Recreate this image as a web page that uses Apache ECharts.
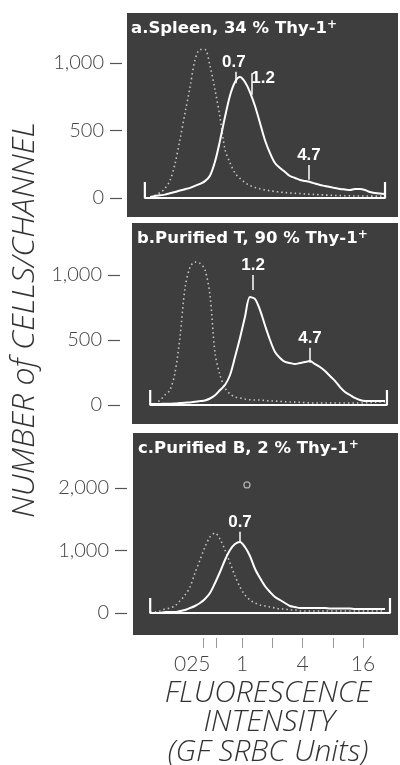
<!DOCTYPE html>
<html>
<head>
<meta charset="utf-8">
<script src="https://cdn.jsdelivr.net/npm/echarts@6/dist/echarts.min.js"></script>
<style>
html, body { margin: 0; padding: 0; background: #fff; }
#chart { width: 400px; height: 765px; }
</style>
</head>
<body>
<div id="chart"></div>
<script>
// fluorescence intensity (GF SRBC units) of each histogram point
var xGrid = [0.122, 0.136, 0.153, 0.171, 0.192, 0.215, 0.241, 0.271, 0.304, 0.340,
             0.382, 0.428, 0.480, 0.539, 0.604, 0.677, 0.760, 0.852, 0.955, 1.07,
             1.20, 1.35, 1.51, 1.69, 1.90, 2.13, 2.39, 2.68, 3.00, 3.37,
             3.78, 4.24, 4.75, 5.33, 5.97, 6.70, 7.51, 8.42, 9.45, 10.6,
             11.9, 13.3, 14.9, 16.8, 18.8, 21.1, 23.6, 26.5];

// cells / channel : control (dotted) and stained (bright) curves
var ctrlA  = [7, 20, 40, 70, 130, 250, 430, 630, 820, 1020, 1100, 1100, 980, 800, 600, 360, 260, 185, 145, 115,
              92, 78, 68, 60, 54, 48, 44, 40, 37, 35, 33, 30, 28, 26, 24, 22, 20, 19, 18, 17,
              16, 15, 15, 15, 14, 14, 14, 14];
var stainA = [7, 15, 20, 25, 35, 44, 55, 65, 75, 90, 105, 125, 165, 270, 425, 600, 760, 860, 896, 859,
              785, 680, 556, 430, 333, 259, 222, 193, 163, 148, 133, 126, 118, 107, 96, 89, 81, 74, 67, 63,
              59, 67, 67, 59, 44, 37, 33, 30];
var ctrlB  = [0, 8, 38, 77, 115, 246, 515, 900, 1060, 1100, 1090, 1040, 846, 400, 230, 131, 85, 62, 54, 46,
              40, 38, 38, 35, 31, 30, 28, 25, 23, 22, 20, 18, 16, 15, 15, 15, 15, 15, 15, 15,
              15, 15, 15, 17, 19, 21, 23, 23];
var stainB = [8, 8, 8, 10, 10, 12, 15, 18, 20, 25, 30, 35, 50, 75, 115, 154, 231, 369, 515, 677,
              830, 815, 731, 615, 500, 408, 362, 331, 323, 315, 323, 331, 338, 315, 292, 262, 223, 185, 138, 100,
              77, 54, 38, 31, 31, 31, 31, 31];
var ctrlC  = [16, 16, 32, 64, 80, 112, 192, 288, 416, 640, 848, 1056, 1216, 1280, 1184, 1008, 800, 592, 416, 288,
              208, 160, 128, 112, 96, 80, 64, 64, 48, 48, 32, 32, 32, 32, 32, 32, 32, 32, 32, 32,
              32, 32, 32, 32, 32, 32, 32, 32];
var stainC = [0, 0, 0, 16, 16, 16, 32, 48, 80, 112, 160, 224, 320, 480, 656, 848, 1008, 1104, 1136, 1056,
              912, 704, 560, 432, 336, 256, 208, 160, 112, 96, 80, 80, 80, 80, 80, 80, 72, 72, 72, 72,
              72, 64, 64, 64, 64, 64, 64, 64];

// peak markers: [intensity, top count, bottom count, text]
var marksA = [[0.87, 935, 850, '0.7'], [1.26, 925, 765, '1.2'], [4.64, 245, 135, '4.7']];
var marksB = [[1.29, 1000, 885, '1.2'], [4.75, 440, 325, '4.7']];
var marksC = [[0.955, 1300, 1120, '0.7']];

// baseline bracket: [left intensity, right intensity, end height]
var bracketA = [0.108, 26.5, 118];
var bracketB = [0.122, 27.7, 115];
var bracketC = [0.122, 29.7, 240];

var strayC = [[1.12, 2050]];

var titles = ['a.Spleen, 34 % Thy-1', 'b.Purified T, 90 % Thy-1', 'c.Purified B, 2 % Thy-1'];
var yTicksA = [0, 500, 1000];
var yTicksB = [0, 500, 1000];
var yTicksC = [0, 1000, 2000];
var xTicks = [0.41, 0.56, 1, 2, 4, 8, 16];
var xLabelAt = [0.32, 1, 4, 16];
var xLabelText = ['025', '1', '4', '16'];

// layout of the three dark panels (pixels)
var panels = [
  {top: 13,  bottom: 217, left: 127, zero: 198, scale: 0.135,  gap: 5,  ticks: yTicksA},
  {top: 223, bottom: 424, left: 132, zero: 405, scale: 0.13,   gap: 12, ticks: yTicksB},
  {top: 433, bottom: 635, left: 133, zero: 613, scale: 0.0625, gap: 6,  ticks: yTicksC}
];
var panelRight = 398;
function pxToX(px) { return Math.pow(2, (px - 242) / 30.25); }

var lightFont = 'Lato, "DejaVu Sans", sans-serif';
var titleFont = '"Open Sans", Lato, sans-serif';
var boldFont = '"DejaVu Sans", "Liberation Sans", sans-serif';
var markFont = '"Liberation Sans", Arial, sans-serif';

function zip(xs, ys) {
  var out = [];
  for (var i = 0; i < xs.length; i++) out.push([xs[i], ys[i]]);
  return out;
}

var ctrl = [ctrlA, ctrlB, ctrlC];
var stain = [stainA, stainB, stainC];
var marks = [marksA, marksB, marksC];
var brackets = [bracketA, bracketB, bracketC];
var labelShift = [[[-2, 0], [11, 15], [0, 0]], [[0, 0], [0, 0]], [[0, 0]]];

var chart = echarts.init(document.getElementById('chart'));

var series = [];
panels.forEach(function (p, i) {
  series.push({
    type: 'line', xAxisIndex: i, yAxisIndex: i,
    data: zip(xGrid, ctrl[i]),
    symbol: 'none', smooth: 0.3, silent: true,
    lineStyle: {color: '#c4c4c4', width: 1.6, type: [1.5, 3]}
  });
  series.push({
    type: 'line', xAxisIndex: i, yAxisIndex: i,
    data: zip(xGrid, stain[i]),
    symbol: 'none', smooth: 0.3, silent: true,
    lineStyle: {color: '#ffffff', width: 2},
    markLine: {
      symbol: ['none', 'none'], silent: true,
      lineStyle: {color: '#ffffff', width: 1.5, type: 'solid'},
      label: {
        show: true, position: 'start', distance: 1,
        formatter: function (q) { return q.name; },
        color: '#ffffff', fontWeight: 'bold', fontSize: 17, fontFamily: markFont
      },
      data: marks[i].map(function (m, k) {
        return [{name: m[3], coord: [m[0], m[1]], label: {offset: labelShift[i][k]}},
                {coord: [m[0], m[2]]}];
      })
    }
  });
  var b = brackets[i];
  series.push({
    type: 'line', xAxisIndex: i, yAxisIndex: i,
    data: [[b[0], b[2]], [b[0], 0], [b[1], 0], [b[1], b[2]]],
    symbol: 'none', silent: true,
    lineStyle: {color: '#ffffff', width: 2.2}
  });
});
series.push({
  type: 'scatter', xAxisIndex: 2, yAxisIndex: 2,
  data: strayC, symbol: 'circle', symbolSize: 6, silent: true,
  itemStyle: {color: 'rgba(0,0,0,0)', borderColor: '#cccccc', borderWidth: 1.3}
});

var titleStyle = {fill: '#333', fontStyle: 'italic', fontWeight: 300, fontFamily: titleFont,
                  align: 'center', verticalAlign: 'middle'};
function styled(text, size) {
  return echarts.util.extend({text: text, fontSize: size}, titleStyle);
}

chart.setOption({
  animation: false,
  backgroundColor: '#ffffff',
  title: panels.map(function (p, i) {
    return {
      text: '{t|' + titles[i] + '}{s|+}',
      left: p.left + (i === 0 ? 4 : 5),
      top: p.top + 6,
      padding: 0,
      textStyle: {
        rich: {
          t: {color: '#ffffff', fontSize: 16.5, fontWeight: 'bold', fontFamily: boldFont, lineHeight: 19},
          s: {color: '#ffffff', fontSize: 12, fontWeight: 'bold', fontFamily: boldFont, verticalAlign: 'top', lineHeight: 19}
        }
      }
    };
  }),
  grid: panels.map(function (p) {
    return {
      left: p.left, right: 400 - panelRight, top: p.top, height: p.bottom - p.top,
      show: true, backgroundColor: '#3e3e3e', borderWidth: 0
    };
  }),
  xAxis: panels.map(function (p, i) {
    var bottomAxis = i === 2;
    return {
      type: 'log', logBase: 2, gridIndex: i, position: 'bottom',
      min: pxToX(p.left), max: pxToX(panelRight),
      show: bottomAxis, offset: 3,
      axisLine: {show: false, onZero: false},
      splitLine: {show: false},
      minorTick: {show: false},
      axisTick: {show: bottomAxis, inside: false, customValues: xTicks, length: 10,
                 lineStyle: {color: '#9a9a9a', width: 1}},
      axisLabel: {
        show: bottomAxis, customValues: xLabelAt, margin: 16,
        fontSize: 21, color: '#444', fontFamily: lightFont, fontWeight: 300,
        formatter: function (v) {
          var best = 0;
          for (var k = 1; k < xLabelAt.length; k++) {
            if (Math.abs(Math.log(v / xLabelAt[k])) < Math.abs(Math.log(v / xLabelAt[best]))) best = k;
          }
          return xLabelText[best];
        }
      }
    };
  }),
  yAxis: panels.map(function (p, i) {
    return {
      type: 'value', gridIndex: i,
      min: -(p.bottom - p.zero) / p.scale,
      max: (p.zero - p.top) / p.scale,
      offset: p.gap,
      axisLine: {show: false, onZero: false},
      splitLine: {show: false},
      axisTick: {show: true, customValues: p.ticks, length: 12,
                 lineStyle: {color: '#555', width: 1.2}},
      axisLabel: {
        customValues: p.ticks, margin: 18,
        fontSize: 20, color: '#444', fontFamily: lightFont, fontWeight: 300,
        formatter: function (v) { return v.toLocaleString('en-US'); }
      }
    };
  }),
  graphic: [
    {type: 'text', x: 25, y: 320, rotation: Math.PI / 2, style: styled('NUMBER of CELLS/CHANNEL', 32)},
    {type: 'text', x: 268, y: 693, style: styled('FLUORESCENCE', 30)},
    {type: 'text', x: 269, y: 722, style: styled('INTENSITY', 30)},
    {type: 'text', x: 268, y: 752, style: styled('(GF SRBC Units)', 30)}
  ],
  series: series
});

window.addEventListener('resize', function () {
  chart.resize();
});
</script>
</body>
</html>
